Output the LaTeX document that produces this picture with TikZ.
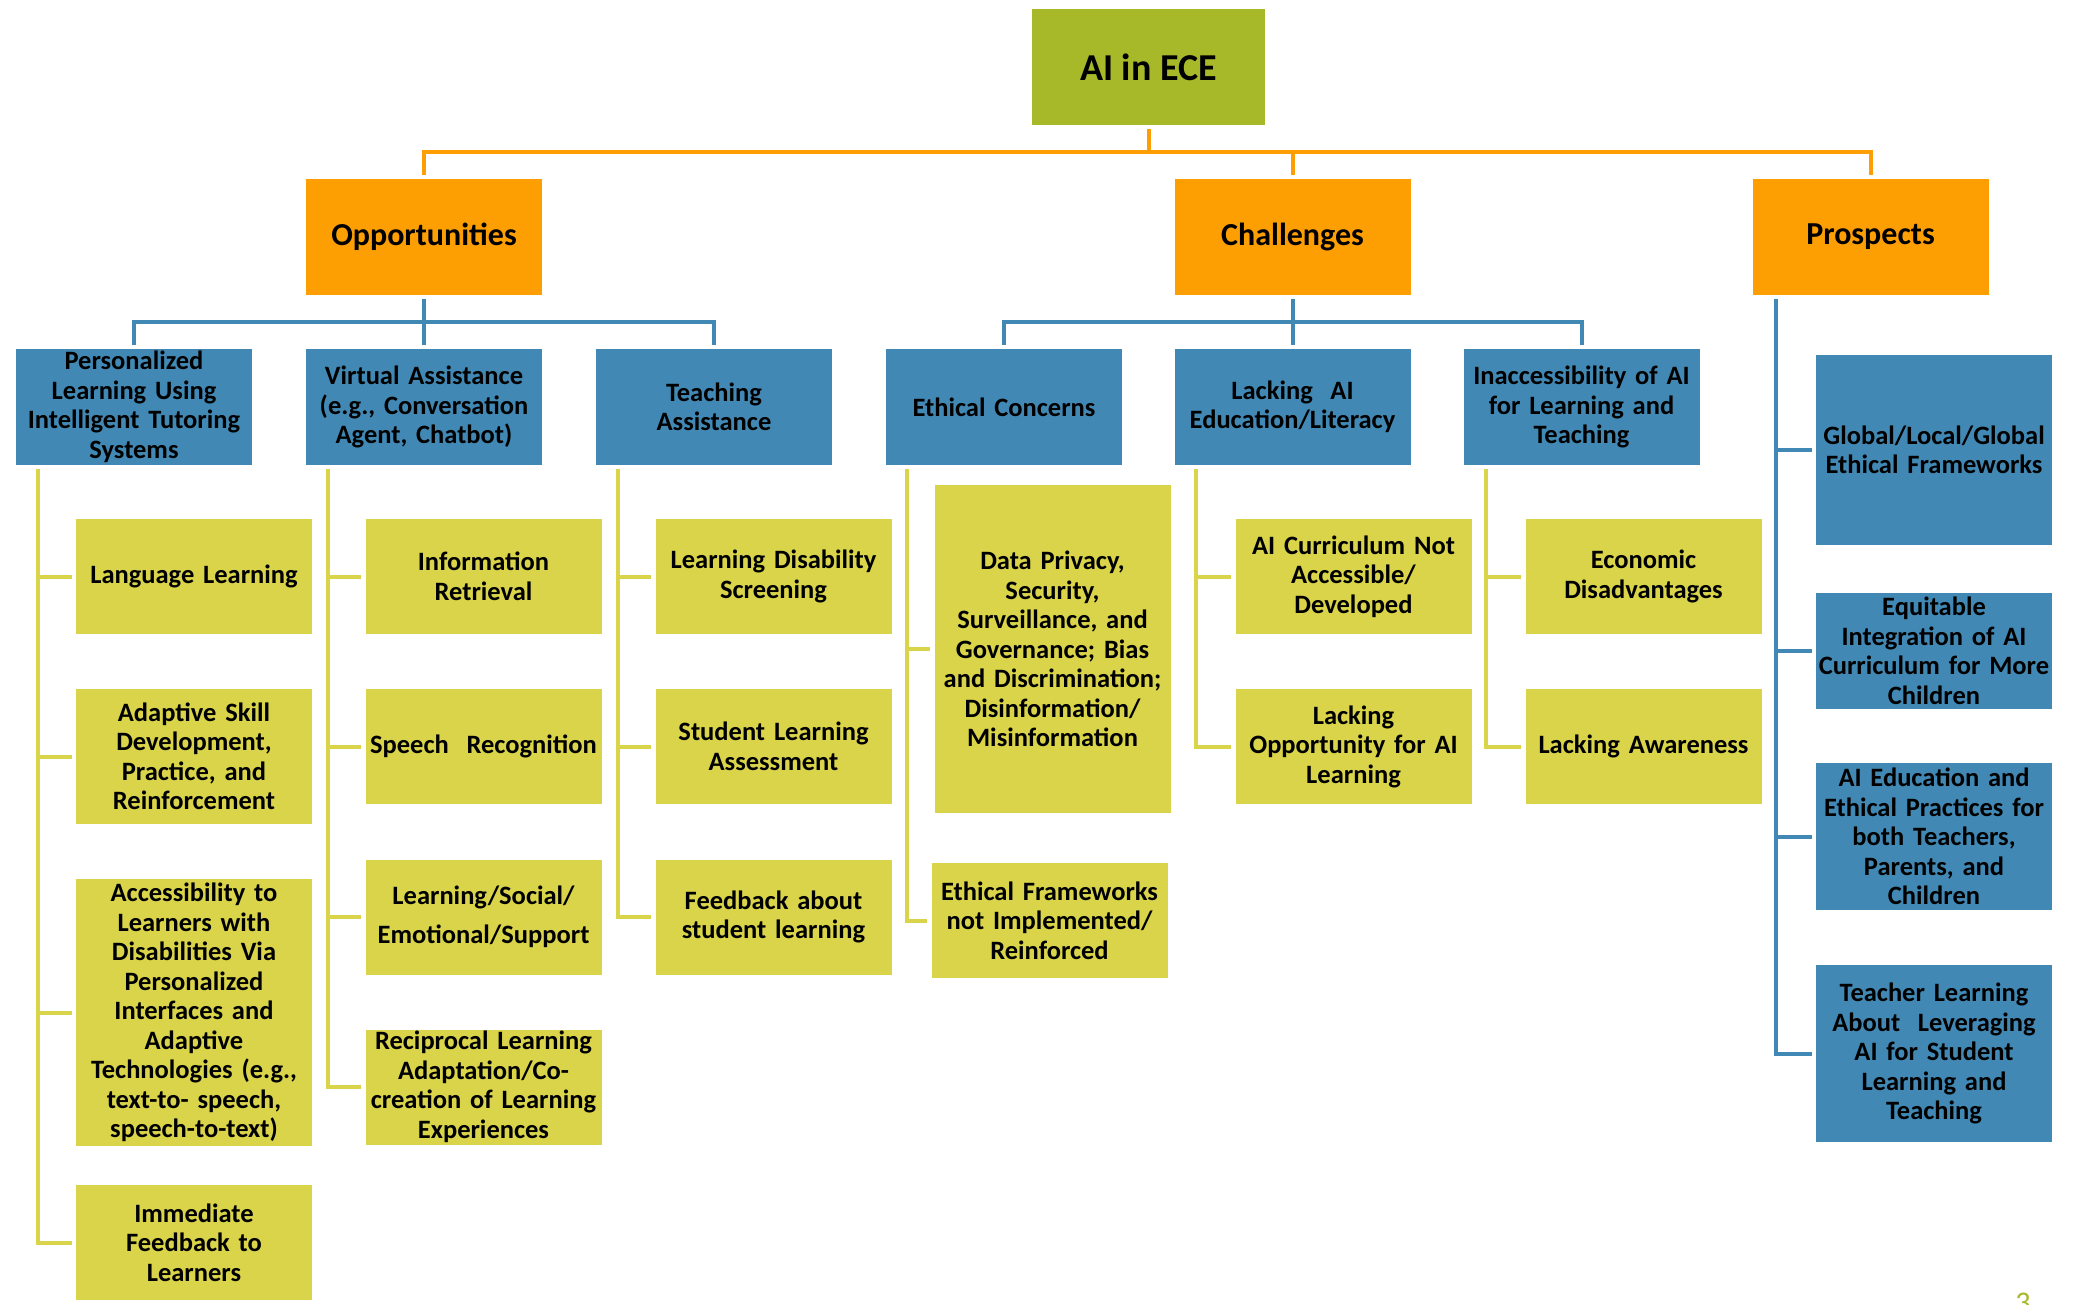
\documentclass[tikz,border=0pt]{standalone}
\usepackage{fontspec}
\setmainfont{Carlito}
\definecolor{rootgreen}{HTML}{A7B829}
\definecolor{catorange}{HTML}{FD9E02}
\definecolor{topicblue}{HTML}{4189B4}
\definecolor{itemyellow}{HTML}{D9D449}

\begin{document}
\begin{tikzpicture}[x=1pt,y=-1pt,
  rootbox/.style={rectangle,inner sep=0pt,fill=rootgreen,minimum width=233pt,minimum height=116pt,align=center,font=\fontsize{38}{44}\selectfont\bfseries},
  catbox/.style={rectangle,inner sep=0pt,fill=catorange,minimum width=236pt,minimum height=116pt,text width=236pt,align=center,font=\fontsize{32}{38}\selectfont\bfseries},
  topicbox/.style={rectangle,inner sep=0pt,fill=topicblue,minimum width=236pt,minimum height=116pt,text width=236pt,align=center,font=\fontsize{26.5}{29.5}\selectfont\bfseries},
  itembox/.style={rectangle,inner sep=0pt,fill=itemyellow,minimum width=236pt,minimum height=115pt,text width=236pt,align=center,font=\fontsize{26.5}{29.5}\selectfont\bfseries},
  orangeline/.style={draw=catorange,line width=4pt,shorten <=4pt,shorten >=4pt},
  blueline/.style={draw=topicblue,line width=4pt,shorten <=4pt,shorten >=4pt},
  yellowline/.style={draw=itemyellow,line width=4pt,shorten <=4pt,shorten >=4pt}]
\useasboundingbox (0,0) rectangle (2074,1304);

\node[rootbox] (root) at (1148.5,67) {AI in ECE};

\node[catbox] (opp) at (424,237) {Opportunities};
\node[catbox] (chal) at (1292.5,237) {Challenges};
\node[catbox] (pro) at (1870.5,237) {Prospects};

\node[topicbox] (pers) at (134,407) {Personalized\\ Learning Using\\ Intelligent Tutoring\\ Systems};
\node[topicbox] (virt) at (424,407) {Virtual Assistance\\ (e.g., Conversation\\ Agent, Chatbot)};
\node[topicbox] (teach) at (714,407) {Teaching\\ Assistance};
\node[topicbox] (ethic) at (1004,407) {Ethical Concerns};
\node[topicbox] (lack) at (1292.5,407) {Lacking\ \ AI\\ Education/Literacy};
\node[topicbox] (inacc) at (1581.5,407) {Inaccessibility of AI\\ for Learning and\\ Teaching};

\node[topicbox,minimum height=190pt] (glob) at (1934,450) {Global/Local/Global\\ Ethical Frameworks};
\node[topicbox] (equit) at (1934,651) {Equitable\\ Integration of AI\\ Curriculum for More\\ Children};
\node[topicbox,minimum height=147pt] (aied) at (1934,836.5) {AI Education and\\ Ethical Practices for\\ both Teachers,\\ Parents, and\\ Children};
\node[topicbox,minimum height=177pt] (tlearn) at (1934,1053.5) {Teacher Learning\\ About\ \ Leveraging\\ AI for Student\\ Learning and\\ Teaching};

\node[itembox] (lang) at (194,576.5) {Language Learning};
\node[itembox,minimum height=135pt] (adapt) at (194,756.5) {Adaptive Skill\\ Development,\\ Practice, and\\ Reinforcement};
\node[itembox,minimum height=267pt] (access) at (194,1012.5) {Accessibility to\\ Learners with\\ Disabilities Via\\ Personalized\\ Interfaces and\\ Adaptive\\ Technologies (e.g.,\\ text-to- speech,\\ speech-to-text)};
\node[itembox] (immed) at (194,1242.5) {Immediate\\ Feedback to\\ Learners};

\node[itembox] (info) at (483.5,576.5) {Information\\ Retrieval};
\node[itembox] (speech) at (483.5,746.5) {Speech\ \ Recognition};
\node[itembox] (social) at (483.5,917) {Learning/Social/\\[10pt] Emotional/Support};
\node[itembox] (recip) at (483.5,1087) {Reciprocal Learning\\ Adaptation/Co-\\ creation of Learning\\ Experiences};

\node[itembox] (screen) at (773.5,576.5) {Learning Disability\\ Screening};
\node[itembox] (assess) at (773.5,746.5) {Student Learning\\ Assessment};
\node[itembox] (feedb) at (773.5,917) {Feedback about\\ student learning};

\node[itembox,minimum height=328pt] (privacy) at (1052.5,649) {Data Privacy,\\ Security,\\ Surveillance, and\\ Governance; Bias\\ and Discrimination;\\ Disinformation/\\ Misinformation};
\node[itembox] (frame) at (1049.5,920.5) {Ethical Frameworks\\ not Implemented/\\ Reinforced};

\node[itembox] (curric) at (1353.5,576.5) {AI Curriculum Not\\ Accessible/\\ Developed};
\node[itembox] (chance) at (1353.5,746.5) {Lacking\\ Opportunity for AI\\ Learning};

\node[itembox] (econ) at (1643.5,576.5) {Economic\\ Disadvantages};
\node[itembox] (aware) at (1643.5,746.5) {Lacking Awareness};

\node[anchor=base,text=rootgreen,font=\fontsize{30}{34}\selectfont] (page) at (2023,1312) {3};

\draw[orangeline] (root.south) -- ++(0,27) -| (opp.north);
\draw[orangeline] (root.south) -- ++(0,27) -| (chal.north);
\draw[orangeline] (root.south) -- ++(0,27) -| (pro.north);

\draw[blueline] (opp.south) -- ++(0,27) -| (pers.north);
\draw[blueline] (opp.south) -- ++(0,27) -| (virt.north);
\draw[blueline] (opp.south) -- ++(0,27) -| (teach.north);
\draw[blueline] (chal.south) -- ++(0,27) -| (ethic.north);
\draw[blueline] (chal.south) -- ++(0,27) -| (lack.north);
\draw[blueline] (chal.south) -- ++(0,27) -| (inacc.north);

\draw[blueline] ([xshift=24pt]pro.south west) |- (glob.west);
\draw[blueline] ([xshift=24pt]pro.south west) |- (equit.west);
\draw[blueline] ([xshift=24pt]pro.south west) |- (aied.west);
\draw[blueline] ([xshift=24pt]pro.south west) |- (tlearn.west);

\draw[yellowline] ([xshift=22pt]pers.south west) |- (lang.west);
\draw[yellowline] ([xshift=22pt]pers.south west) |- (adapt.west);
\draw[yellowline] ([xshift=22pt]pers.south west) |- (access.west);
\draw[yellowline] ([xshift=22pt]pers.south west) |- (immed.west);

\draw[yellowline] ([xshift=22pt]virt.south west) |- (info.west);
\draw[yellowline] ([xshift=22pt]virt.south west) |- (speech.west);
\draw[yellowline] ([xshift=22pt]virt.south west) |- (social.west);
\draw[yellowline] ([xshift=22pt]virt.south west) |- (recip.west);

\draw[yellowline] ([xshift=22pt]teach.south west) |- (screen.west);
\draw[yellowline] ([xshift=22pt]teach.south west) |- (assess.west);
\draw[yellowline] ([xshift=22pt]teach.south west) |- (feedb.west);

\draw[yellowline] ([xshift=21pt]ethic.south west) |- (privacy.west);
\draw[yellowline] ([xshift=21pt]ethic.south west) |- (frame.west);

\draw[yellowline] ([xshift=22pt]lack.south west) |- (curric.west);
\draw[yellowline] ([xshift=22pt]lack.south west) |- (chance.west);

\draw[yellowline] ([xshift=23pt]inacc.south west) |- (econ.west);
\draw[yellowline] ([xshift=23pt]inacc.south west) |- (aware.west);
\end{tikzpicture}
\end{document}
